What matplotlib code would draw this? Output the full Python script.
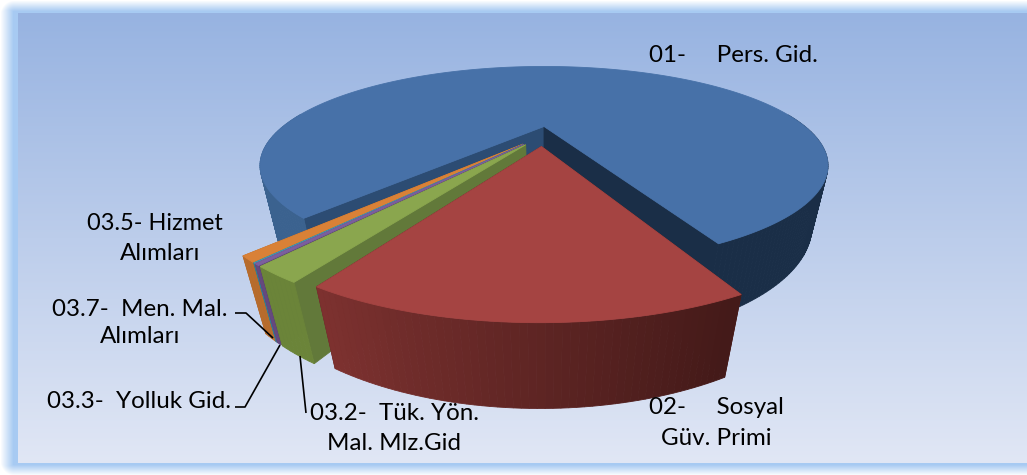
import numpy as np
import matplotlib
matplotlib.use("Agg")
import matplotlib.pyplot as plt
from matplotlib.patches import Polygon
from matplotlib.colors import to_rgb

# ---- data (share of total, %) in drawing order, clockwise
categories = ["01- Pers. Gid.", "02- Sosyal Güv. Primi", "03.2- Tük. Yön. Mal. Mlz.Gid",
              "03.3- Yolluk Gid.", "03.5- Hizmet Alımları", "03.7- Men. Mal. Alımları"]
values = [81.8, 15.2, 1.94, 0.22, 0.08, 0.76]
top_colors = ["#4771a8", "#a54442", "#8aa64e", "#7b5f9e", "#3f9bb3", "#d98137"]
wall_left = ["#3b628f", "#7e3230", "#6b8439", "#65497f", "#2f8096", "#b76c2d"]
wall_right = ["#1a2e47", "#441a19", "#667e37", "#5c4274", "#2b768a", "#ad662a"]
face_start = ["#2c4c73", "#5a2524", "#62793a", "#5c4274", "#2b768a", "#a8622a"]
face_end = ["#1a2e47", "#5a2524", "#62793a", "#5c4274", "#2b768a", "#a8622a"]

START_DEG = -40.0
EXPLODE = 0.108
RADIUS = 0.985
W, H = 1027, 475

fig = plt.figure(figsize=(W / 100, H / 100), dpi=100)
ax = fig.add_axes([0, 0, 1, 1])
ax.set_xlim(0, W)
ax.set_ylim(H, 0)
ax.axis("off")

# ---- background: gradient panel with soft glowing frame
yy, xx = np.mgrid[0:H, 0:W]
c_top = np.array(to_rgb("#97b3e1"))
c_bot = np.array(to_rgb("#e1e7f5"))
frac = np.clip((yy - 13) / (463 - 13), 0, 1)[..., None]
img = c_top + (c_bot - c_top) * frac
frame = np.array(to_rgb("#a7caf2"))
panel = (xx >= 18) & (yy >= 13) & (yy < 463)
img[~panel] = frame
fade = np.minimum.reduce([np.clip(xx / 13.0, 0, 1),
                          np.clip((yy + 5) / 14.0, 0, 1),
                          np.clip((H + 14 - yy) / 24.0, 0, 1)])
corner_d = np.hypot(np.clip(14 - xx, 0, None), np.clip(14 - yy, 0, None)) / 14
corner_b = np.hypot(np.clip(14 - xx, 0, None), np.clip(yy - (H - 14), 0, None)) / 14
fade = np.minimum(fade, np.clip(1 - np.maximum(corner_d, corner_b), 0, 1) * 1.3)
fade = np.clip(fade, 0, 1)[..., None]
img = np.where(panel[..., None], img, 1 + (img - 1) * fade)
ax.imshow(img, extent=(0, W, H, 0), aspect="auto", zorder=0, interpolation="bilinear")


def project(u, t, z):
    """Perspective view of the pie: z=0 top face, z=1 bottom face."""
    w = 1 - 0.40 * t + 0.051 * z
    return 544 + 265 * u / w, 126.5 + (85 * t + 59 * z) / w


def polar(theta):
    return np.sin(theta), np.cos(theta)


def mix(a, b, f):
    a, b = np.array(to_rgb(a)), np.array(to_rgb(b))
    return tuple(a + (b - a) * f)


def poly(pts, color, z):
    ax.add_patch(Polygon(pts, closed=True, facecolor=color, edgecolor=color, lw=0.6, zorder=z))


# ---- slice angles from the values
spans = np.radians(np.array(values) / sum(values) * 360)
starts = np.radians(START_DEG) - np.concatenate([[0], np.cumsum(spans)[:-1]])
ends = starts - spans
mids = (starts + ends) / 2
ref_u, ref_t = polar(mids[0])

order = [0, 5, 4, 3, 2, 1]
for layer, i in enumerate(order):
    base = 2 + layer * 4
    mu, mt = polar(mids[i])
    if i == 0:
        cu, ct = 0.0, 0.0
    else:
        cu, ct = EXPLODE * (mu - 0.4 * ref_u), EXPLODE * (mt - ref_t)
    n = max(2, int(np.degrees(spans[i]) / 1.0) + 2)
    th = np.linspace(starts[i], ends[i], n)
    us = cu + RADIUS * np.sin(th)
    ts = ct + RADIUS * np.cos(th)
    # radial cut faces (behind the outer wall)
    for idx, col in ((0, face_start[i]), (n - 1, face_end[i])):
        a = np.array([project(cu, ct, 0), project(us[idx], ts[idx], 0),
                      project(us[idx], ts[idx], 1), project(cu, ct, 1)])
        poly(a, col, base)
    # outer wall, quad by quad
    for k in range(n - 1):
        if (np.cos(th[k]) + np.cos(th[k + 1])) < -0.3:
            continue
        a = np.array([project(us[k], ts[k], 0), project(us[k + 1], ts[k + 1], 0),
                      project(us[k + 1], ts[k + 1], 1), project(us[k], ts[k], 1)])
        f = np.clip((np.sin((th[k] + th[k + 1]) / 2) + 0.5) / 0.9, 0, 1)
        poly(a, mix(wall_left[i], wall_right[i], f), base + 1)
    # top face
    top = [project(cu, ct, 0)] + [project(a, b, 0) for a, b in zip(us, ts)]
    poly(np.array(top), top_colors[i], base + 2)

# ---- labels
font = ["Lato", "DejaVu Sans"]
tk = dict(family=font, fontsize=17.4, color="black", zorder=50, va="center")
ax.text(649, 55, "01-     Pers. Gid.", ha="left", **tk)
ax.text(716, 423, "02-     Sosyal\nGüv. Primi", ha="center", linespacing=1.62, **tk)
ax.text(155, 224, "03.5- Hizmet", ha="center", **{**tk, "fontsize": 16.9})
ax.text(160, 254, "Alımları", ha="center", **tk)
ax.text(140, 323, "03.7-  Men. Mal.\nAlımları", ha="center", linespacing=1.38, **tk)
ax.text(47, 401, "03.3-  Yolluk Gid.", ha="left", **tk)
ax.text(394, 428.5, "03.2-  Tük. Yön.\nMal. Mlz.Gid", ha="center", linespacing=1.5, **tk)

# ---- leader lines
leaders = [([235, 246, 273], [313, 313, 338]),
           ([235, 245, 280], [407, 407, 345]),
           ([306, 300], [413, 356])]
for lx, ly in leaders:
    ax.plot(lx, ly, color="black", lw=1.2, zorder=45, solid_capstyle="butt")

fig.savefig("out.png", dpi=100)
